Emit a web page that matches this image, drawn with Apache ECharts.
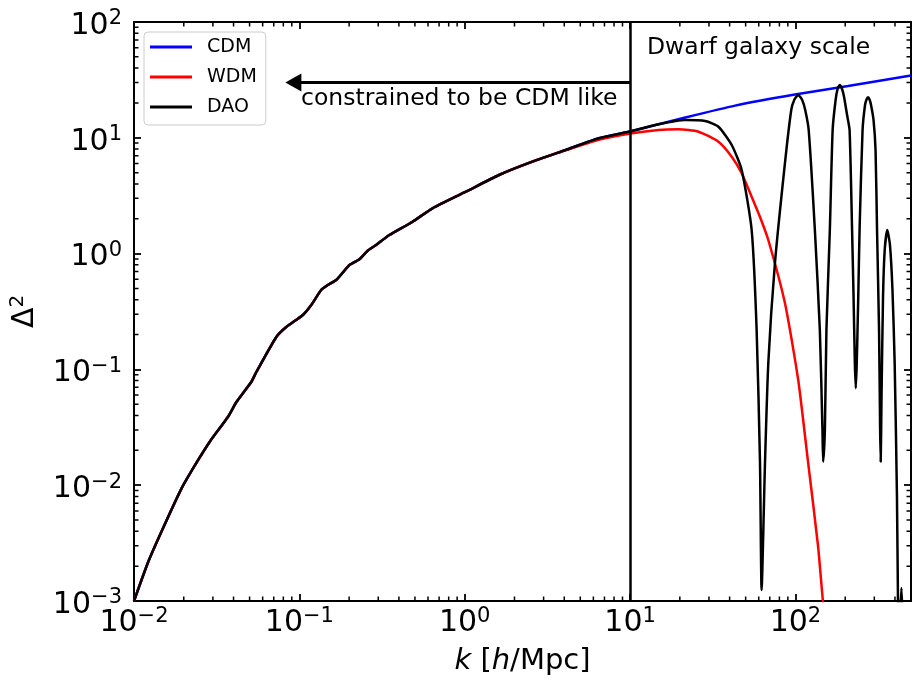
<!DOCTYPE html>
<html>
<head>
<meta charset="utf-8">
<title>Dimensionless power spectrum: CDM, WDM, DAO</title>
<script src="https://cdn.jsdelivr.net/npm/echarts@6/dist/echarts.min.js"></script>
<style>
  html, body { margin: 0; padding: 0; background: #fff; }
  #chart { width: 914px; height: 681px; }
</style>
</head>
<body>
<div id="chart"></div>
<script>
// Large-scale part of the spectrum, common to all three models
const kShared = [0.01, 0.0122, 0.01502, 0.0194, 0.02388, 0.02873, 0.03705, 0.04163, 0.05128, 0.05496,
  0.07256, 0.08337, 0.1050, 0.1180, 0.1355, 0.1485, 0.1669, 0.1830, 0.2009, 0.2307,
  0.2589, 0.2910, 0.3500, 0.4837, 0.6385, 1.0154, 1.612, 2.561];
const d2Shared = [0.001, 0.002185, 0.004295, 0.009401, 0.01565, 0.02375, 0.03904, 0.05231, 0.07828, 0.09495,
  0.1905, 0.2323, 0.2950, 0.3598, 0.4851, 0.5355, 0.5916, 0.6843, 0.7971, 0.8929,
  1.059, 1.187, 1.447, 1.886, 2.462, 3.423, 4.773, 6.217];

// Small-scale tails per model
const kCdm = [4.072, 6.466, 10.27, 21.56, 43.16, 99.3, 208.2, 500];
const d2Cdm = [7.847, 9.90, 11.45, 14.97, 18.97, 23.65, 28.02, 34.5];

const kWdm = [4.072, 6.466, 10.27, 14.88, 19.64, 25.94, 34.22, 41.18, 47.32, 54.37,
  61.07, 68.55, 86.46, 103.97, 119.5, 137.2, 147.1, 157.7];
const d2Wdm = [7.80, 9.62, 10.94, 11.68, 11.83, 11.29, 9.25, 6.87, 4.94, 3.10,
  2.07, 1.31, 0.372, 0.081, 0.01546, 0.00294, 0.00096, 0.00046];

const kDao = [4.072, 6.466, 10.27, 14.88, 21.56, 28.46, 34.22, 41.18, 47.32, 54.37,
  58.27, 61.07, 62.44, 65.46, 68.55, 75.21, 86.46, 94.34, 98.35, 103.97,
  109.9, 114.6, 120.3, 131.1, 140.5, 145.7, 147.1, 150.7, 154.0, 161.5,
  167.9, 175.0, 179.9, 185.5, 191.5, 196.9, 205.3, 212.6, 220.1, 224.7,
  228.8, 231.7, 234.9, 239.9, 244.3, 254.7, 263.6, 269.2, 274.9, 280.7,
  286.6, 296.7, 305.2, 311.6, 320.4, 325.3, 328.0, 331.7, 338.7, 346.7,
  359.4, 373.1, 386.3, 398.3, 411.2, 416.9, 421.6, 429.9, 437.7, 445.7,
  453.2];
const d2Dao = [7.847, 9.90, 11.45, 13.1, 14.25, 13.97, 12.47, 8.666, 5.272, 1.599,
  0.2189, 0.01555, 0.001245, 0.01555, 0.1136, 0.8295, 6.061, 17.38, 21.21, 23.42,
  21.21, 17.38, 11.68, 1.599, 0.2189, 0.02998, 0.01595, 0.02998, 0.2189, 1.599,
  11.68, 21.21, 26.38, 28.58, 26.38, 22.50, 15.74, 11.68, 1.599, 0.4244,
  0.1129, 0.06867, 0.1129, 0.4244, 1.599, 11.68, 19.20, 21.42, 22.37, 21.42,
  19.20, 14.25, 7.847, 1.599, 0.2189, 0.02998, 0.01595, 0.05809, 0.4244, 1.074,
  1.599, 1.186, 0.4850, 0.1129, 0.007955, 0.001089, 0.000460, 0.000685, 0.001296, 0.000685,
  0.000309];

// Axis ranges and annotation positions (data units)
const kRange = [0.01, 500];
const d2Range = [0.001, 100];
const kDwarf = 10;            // dwarf-galaxy scale marker
const arrowLevel = 30;        // height of the "CDM like" arrow
const arrowTip = 0.092;

const FONT = '"DejaVu Sans", "Liberation Sans", sans-serif';
const GRID = { left: 134, right: 1, top: 22, bottom: 80 };
const W = 914, H = 681;

function pairs(ks, vs) { return ks.map((k, i) => [k, vs[i]]); }
const cdmData = pairs(kShared.concat(kCdm), d2Shared.concat(d2Cdm));
const wdmData = pairs(kShared.concat(kWdm), d2Shared.concat(d2Wdm));
const daoData = pairs(kShared.concat(kDao), d2Shared.concat(d2Dao));

// minor tick values (2..9 x 10^n) strictly inside a range
function minorValues(lo, hi) {
  const out = [];
  const e0 = Math.floor(Math.log10(lo));
  const e1 = Math.ceil(Math.log10(hi));
  for (let e = e0; e <= e1; e++) {
    for (let m = 2; m <= 9; m++) {
      const v = m * Math.pow(10, e);
      if (v > lo * 1.0001 && v < hi * 0.9999) out.push(v);
    }
  }
  return out;
}

// Minor ticks: short inward segments in data space, separated by gaps
const MINOR_LEN = 4.5;
const xDecades = Math.log10(kRange[1] / kRange[0]);
const yDecades = Math.log10(d2Range[1] / d2Range[0]);
const xStep = Math.pow(10, MINOR_LEN * xDecades / (W - GRID.left - GRID.right));
const yStep = Math.pow(10, MINOR_LEN * yDecades / (H - GRID.top - GRID.bottom));
const tickSegments = [];
minorValues(kRange[0], kRange[1]).forEach(v => {
  tickSegments.push([v, d2Range[0]], [v, d2Range[0] * yStep], [v, null]);
  tickSegments.push([v, d2Range[1]], [v, d2Range[1] / yStep], [v, null]);
});
minorValues(d2Range[0], d2Range[1]).forEach(v => {
  tickSegments.push([kRange[0], v], [kRange[0] * xStep, v], [kRange[0], null]);
  tickSegments.push([kRange[1], v], [kRange[1] / xStep, v], [kRange[1], null]);
});

function powLabel(v) {
  const lv = Math.log10(v);
  const e = Math.round(lv);
  if (Math.abs(lv - e) > 1e-6) return '';
  return '{b|10}{s|' + (e < 0 ? '\u2212' + (-e) : String(e)) + '}';
}
const tickRich = {
  b: { fontSize: 30, fontFamily: FONT, color: '#000', lineHeight: 35 },
  s: { fontSize: 21, fontFamily: FONT, color: '#000', lineHeight: 21, verticalAlign: 'top' }
};

const spine = { show: true, onZero: false, lineStyle: { color: '#000', width: 2 } };
const majorTick = { show: true, inside: true, length: 7, lineStyle: { color: '#000', width: 1.8 } };

function logAxis(pos, range, showLabel, labelOpts) {
  return {
    type: 'log', logBase: 10, min: range[0], max: range[1], position: pos,
    axisLine: spine, axisTick: majorTick, splitLine: { show: false },
    axisLabel: Object.assign({ show: showLabel, formatter: powLabel, rich: tickRich }, labelOpts || {})
  };
}

const xMain = logAxis('bottom', kRange, true, { margin: 5 });
xMain.name = '{i|k} [{i|h}/Mpc]';
xMain.nameLocation = 'middle';
xMain.nameGap = 46;
xMain.nameTextStyle = {
  fontSize: 29, fontFamily: FONT, color: '#000',
  rich: { i: { fontSize: 29, fontFamily: FONT, fontStyle: 'italic', color: '#000' } }
};

const yMain = logAxis('left', d2Range, true, { margin: 12, padding: [8, 0, 0, 0] });
yMain.name = '{a|\u0394}{s|2}';
yMain.nameLocation = 'middle';
yMain.nameRotate = 90;
yMain.nameGap = 92;
yMain.nameTextStyle = {
  rich: {
    a: { fontSize: 30, fontFamily: FONT, color: '#000', lineHeight: 34 },
    s: { fontSize: 20, fontFamily: FONT, color: '#000', lineHeight: 20, verticalAlign: 'top' }
  }
};

const lineBase = { type: 'line', showSymbol: false, symbol: 'none', clip: true, silent: true,
  smooth: 0.2, xAxisIndex: 0, yAxisIndex: 0 };

const chart = echarts.init(document.getElementById('chart'), null, { renderer: 'canvas' });
chart.setOption({
  animation: false,
  backgroundColor: '#fff',
  grid: Object.assign({ containLabel: false }, GRID),
  xAxis: [ xMain, logAxis('top', kRange, false) ],
  yAxis: [ yMain, logAxis('right', d2Range, false) ],
  legend: {
    orient: 'vertical', left: 144, top: 32,
    data: ['CDM', 'WDM', 'DAO'],
    icon: 'rect', itemWidth: 42, itemHeight: 3, itemGap: 10,
    padding: [5, 9, 8, 6],
    backgroundColor: '#fff', borderColor: '#cccccc', borderWidth: 1, borderRadius: 4,
    textStyle: { fontSize: 19, fontFamily: FONT, color: '#000', lineHeight: 20, padding: [0, 0, 0, 10] }
  },
  graphic: [
    { type: 'text', left: 647, top: 36, silent: true,
      style: { text: 'Dwarf galaxy scale', font: '23.5px ' + FONT, fill: '#000' } },
    { type: 'text', left: 301, top: 87, silent: true,
      style: { text: 'constrained to be CDM like', font: '23.5px ' + FONT, fill: '#000' } }
  ],
  series: [
    { name: 'minor ticks', type: 'line', data: tickSegments, xAxisIndex: 0, yAxisIndex: 0,
      showSymbol: false, symbol: 'none', connectNulls: false, clip: false, silent: true, z: 5,
      lineStyle: { color: '#000', width: 1.5 }, color: '#000' },
    Object.assign({ name: 'CDM', data: cdmData, color: '#0000ff',
      lineStyle: { color: '#0000ff', width: 2.5 } }, lineBase),
    Object.assign({ name: 'WDM', data: wdmData, color: '#ff0000',
      lineStyle: { color: '#ff0000', width: 2.5 } }, lineBase),
    Object.assign({ name: 'DAO', data: daoData, color: '#000000',
      lineStyle: { color: '#000000', width: 2.5 },
      markLine: {
        silent: true, animation: false,
        symbol: ['none', 'none'],
        label: { show: false },
        emphasis: { disabled: true },
        lineStyle: { color: '#000', width: 2.5, type: 'solid' },
        data: [
          { xAxis: kDwarf },
          [
            { coord: [kDwarf, arrowLevel], symbol: 'none', lineStyle: { width: 3 } },
            { coord: [arrowTip, arrowLevel], symbol: 'triangle', symbolSize: [18, 16] }
          ]
        ]
      }
    }, lineBase)
  ]
});
</script>
</body>
</html>
